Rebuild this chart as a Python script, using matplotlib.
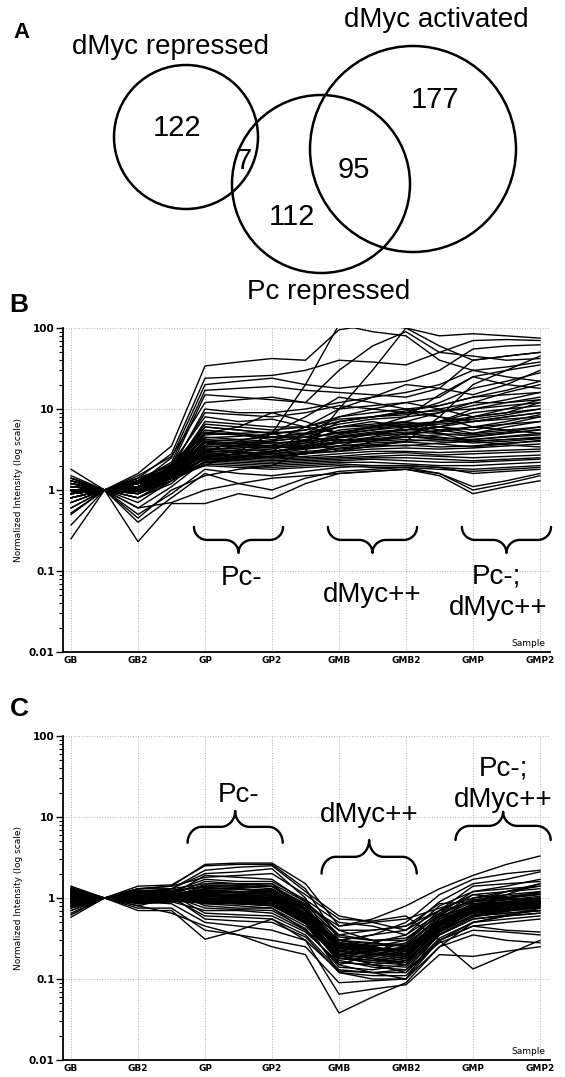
import numpy as np
import matplotlib
matplotlib.use("Agg")
import matplotlib.pyplot as plt
from matplotlib.patches import Ellipse

# ---- data -------------------------------------------------------------
sample_labels = ["GB", "GB2", "GP", "GP2", "GMB", "GMB2", "GMP", "GMP2"]

venn_sets = ["dMyc repressed", "Pc repressed", "dMyc activated"]
venn_counts = [122, 7, 112, 95, 177]   # rep only, rep&Pc, Pc only, Pc&act, act only

group_labels = ["Pc-", "dMyc++", "Pc-;\ndMyc++"]

# panel B : genes up in Pc- / dMyc++ (15 arrays per gene, labels on every other)
lines_b = [
    [1.30, 1, 1.60, 3.50, 34, 38, 42, 40, 95, 110, 100, 80, 85, 80, 75],
    [1.10, 1, 1.40, 2.80, 24, 25, 26, 30, 40, 38, 35, 50, 70, 72, 70],
    [0.90, 1, 1.20, 2.50, 20, 22, 24, 20, 18, 20, 22, 30, 55, 60, 62],
    [1.00, 1, 1.30, 2.20, 17, 18, 19, 17, 16, 15, 14, 18, 40, 45, 50],
    [1.40, 1, 1.10, 2.00, 15, 14, 13, 12, 30, 60, 90, 50, 45, 40, 42],
    [0.80, 1, 1.50, 2.60, 12, 13, 14, 12, 10, 11, 12, 14, 25, 30, 35],
    [1.20, 1, 1.00, 1.80, 10, 9, 9, 10, 12, 14, 16, 20, 30, 33, 38],
    [0.70, 1, 1.20, 1.90, 9, 8.5, 8, 9, 11, 10, 9, 12, 18, 22, 28],
    [1.00, 1, 1.30, 2.10, 8, 7, 7.5, 6, 5, 6, 7, 9, 12, 16, 20],
    [1.10, 1, 0.90, 1.70, 7, 6.5, 6, 6, 8, 9, 10, 11, 14, 15, 16],
    [0.90, 1, 1.10, 1.60, 6, 5.5, 5, 5.5, 7, 8, 8.5, 10, 12, 12, 13],
    [1.30, 1, 1.40, 2.00, 5.5, 5, 4.5, 5, 6, 7, 6, 7, 9, 10, 11],
    [0.80, 1, 0.80, 1.40, 5, 4.8, 4.5, 4.5, 4, 5, 5.5, 6, 8, 9, 10],
    [1.00, 1, 1.20, 1.80, 4.5, 4.2, 4, 4.5, 5, 5.5, 6, 6.5, 7, 7.5, 8],
    [1.50, 1, 1.00, 1.50, 4.2, 4, 3.8, 4, 4.5, 5, 4.8, 5.5, 6, 6.5, 7],
    [0.60, 1, 0.70, 1.30, 4, 3.8, 3.5, 3.8, 4.2, 4, 4.5, 4.8, 5, 5.5, 6],
    [1.10, 1, 1.30, 1.90, 3.8, 3.5, 3.5, 3.2, 3.5, 3.8, 4, 4.2, 4.5, 5, 5.5],
    [0.90, 1, 1.10, 1.60, 3.5, 3.4, 3.3, 3.5, 3.8, 4, 4.2, 4, 4.2, 4.5, 4.8],
    [1.20, 1, 0.90, 1.40, 3.3, 3.2, 3, 3.3, 3.5, 3.6, 3.5, 3.8, 4, 4.2, 4.4],
    [0.80, 1, 1.20, 1.70, 3.2, 3, 2.8, 3, 3.2, 3.4, 3.6, 3.4, 3.5, 3.8, 4],
    [1.00, 1, 1.00, 1.50, 3, 2.9, 2.7, 2.9, 3, 3.2, 3.3, 3.2, 3.3, 3.5, 3.7],
    [1.30, 1, 1.20, 1.60, 2.8, 2.7, 2.6, 2.8, 3.5, 4.5, 6, 5, 4, 3.6, 3.4],
    [0.70, 1, 0.80, 1.20, 2.7, 2.6, 2.5, 2.6, 2.8, 3, 3, 2.9, 3, 3.1, 3.2],
    [1.10, 1, 1.40, 1.80, 2.6, 2.5, 2.4, 2.5, 2.6, 2.8, 2.9, 2.7, 2.8, 2.9, 3],
    [0.90, 1, 1.00, 1.40, 2.5, 2.4, 2.3, 2.4, 2.5, 2.6, 2.7, 2.6, 2.5, 2.6, 2.7],
    [1.20, 1, 1.10, 1.50, 2.4, 2.3, 2.2, 2.3, 2.4, 2.5, 2.5, 2.4, 2.3, 2.4, 2.5],
    [0.60, 1, 0.60, 1.10, 2.3, 2.2, 2.1, 2.2, 2.3, 2.4, 2.3, 2.2, 2.2, 2.3, 2.4],
    [1.00, 1, 1.20, 1.50, 2.2, 2.1, 2.0, 2.1, 2.2, 2.2, 2.1, 2.0, 2.0, 2.1, 2.2],
    [0.80, 1, 0.90, 1.30, 2.1, 2.0, 1.9, 2.0, 2.1, 2.0, 2.0, 1.9, 1.8, 1.9, 2.0],
    [1.40, 1, 1.30, 1.60, 2.0, 1.9, 1.8, 1.9, 2.0, 1.9, 1.9, 1.8, 1.7, 1.8, 1.9],
    [0.50, 1, 0.50, 0.90, 1.8, 1.6, 1.5, 1.7, 1.9, 2.0, 2.0, 1.9, 1.6, 1.7, 1.8],
    [0.37, 1, 0.40, 0.80, 1.6, 1.2, 1.0, 1.4, 1.7, 1.8, 1.9, 1.6, 1.1, 1.3, 1.6],
    [0.25, 1, 0.23, 0.68, 0.68, 0.9, 0.78, 1.2, 1.6, 1.7, 1.8, 1.5, 0.9, 1.1, 1.3],
    [0.52, 1, 0.60, 0.70, 1.0, 1.2, 1.4, 1.5, 1.6, 1.7, 1.8, 1.6, 1.0, 1.2, 1.5],
    [1.80, 1, 0.45, 1.00, 1.5, 1.8, 2.0, 3, 10, 30, 100, 60, 40, 45, 50],
    [1.10, 1, 1.20, 1.40, 2, 3, 5, 20, 110, 90, 80, 40, 30, 25, 22],
    [1.00, 1, 1.10, 1.60, 3, 4, 5, 8, 14, 12, 10, 8, 6, 5.5, 5],
    [0.90, 1, 1.30, 1.80, 5, 6, 9, 7, 5, 6, 8, 15, 25, 20, 18],
    [1.20, 1, 1.00, 1.50, 2.5, 2.8, 3, 5, 8, 10, 12, 10, 8, 9, 12],
    [0.80, 1, 1.20, 1.60, 3, 3.5, 4, 6, 10, 14, 20, 18, 15, 20, 30],
    [1.00, 1, 1.40, 2.00, 6, 5.5, 5, 4, 3, 3.5, 4, 8, 20, 30, 45],
    [1.10, 1, 0.90, 1.30, 2.2, 2.4, 2.6, 2.8, 3, 4, 5, 6, 7, 8, 9],
    [0.90, 1, 1.10, 1.40, 2.4, 2.6, 3, 3.5, 4, 4.5, 5, 4.5, 4, 4.2, 4.5],
    [1.20, 1, 1.30, 1.70, 3.6, 3.8, 4, 4.5, 6, 6.5, 7, 6, 5, 6, 7],
    [0.90, 1, 1.00, 1.50, 2.9, 3.1, 3.4, 4, 7, 8, 9, 8, 7, 8, 9],
    [1.10, 1, 1.20, 1.60, 4.8, 5, 5.2, 5, 4.5, 5, 5.5, 7, 10, 12, 14],
    [0.80, 1, 0.90, 1.40, 3.4, 3.6, 3.8, 4, 5.5, 6, 6.5, 5.5, 4.8, 5.2, 6],
    [1.30, 1, 1.10, 1.50, 2.7, 3, 3.2, 3.8, 4.8, 5.5, 6.5, 7, 8, 10, 13],
    [1.00, 1, 1.10, 1.80, 6.5, 6, 5.5, 6, 7.5, 8, 9, 9.5, 10, 11, 12],
    [0.70, 1, 0.80, 1.30, 2.6, 2.8, 3, 3.3, 4, 4.3, 4.6, 4.2, 3.8, 4, 4.3],
    [1.20, 1, 1.20, 1.70, 4.0, 4.2, 4.5, 5, 6.5, 7.5, 8, 9, 11, 13, 16],
    [0.90, 1, 1.30, 1.90, 5.2, 4.8, 4.2, 4.8, 6, 6.2, 6.8, 6, 5.5, 6.5, 8],
    [1.00, 1, 1.00, 1.40, 3.1, 3.3, 3.6, 4.2, 5.2, 5.8, 6.2, 6.8, 7.5, 8.5, 10],
    [1.40, 1, 1.20, 1.60, 2.4, 2.6, 2.9, 3.4, 4.4, 4.8, 5.2, 5, 4.6, 5, 5.6],
    [0.80, 1, 1.10, 1.50, 3.9, 3.7, 3.4, 3.6, 4.6, 5.2, 5.6, 5.2, 6, 7, 8.5],
    [1.10, 1, 0.95, 1.40, 2.2, 2.5, 2.8, 3.2, 3.8, 4.2, 4.5, 4.4, 4.2, 4.6, 5],
    [1.00, 1, 1.25, 1.70, 4.4, 4.6, 4.9, 5.5, 7, 8, 9.5, 11, 14, 17, 22],
    [0.95, 1, 1.05, 1.50, 2.9, 2.7, 2.5, 2.8, 3.3, 3.6, 3.9, 3.7, 3.4, 3.7, 4.1],
]

# panel C : genes down in dMyc++
lines_c = [
    [1.40, 1, 1.30, 1.40, 2.60, 2.70, 2.70, 1.50, 0.45, 0.55, 0.80, 1.30, 1.90, 2.60, 3.30],
    [1.30, 1, 1.40, 1.45, 2.50, 2.60, 2.60, 1.30, 0.30, 0.35, 0.50, 1.10, 1.70, 2.00, 2.20],
    [1.20, 1, 1.20, 1.30, 2.20, 2.40, 2.50, 1.20, 0.60, 0.50, 0.40, 0.90, 1.50, 1.70, 2.10],
    [0.80, 1, 1.10, 1.30, 2.00, 2.10, 2.30, 1.00, 0.20, 0.25, 0.30, 0.70, 1.40, 1.50, 1.60],
    [1.10, 1, 0.90, 1.10, 1.90, 1.80, 1.70, 0.90, 0.35, 0.40, 0.45, 0.85, 0.90, 1.10, 1.50],
    [0.90, 1, 1.20, 1.20, 1.70, 1.60, 1.60, 0.95, 0.50, 0.45, 0.35, 0.80, 1.20, 1.30, 1.40],
    [1.30, 1, 1.00, 1.10, 1.60, 1.50, 1.50, 0.70, 0.15, 0.20, 0.25, 0.60, 1.10, 1.20, 1.30],
    [0.70, 1, 1.30, 1.30, 1.50, 1.50, 1.40, 0.85, 0.40, 0.30, 0.20, 0.55, 1.00, 1.10, 1.20],
    [1.00, 1, 1.10, 1.20, 1.40, 1.40, 1.30, 0.80, 0.25, 0.22, 0.28, 0.65, 0.95, 1.00, 1.10],
    [1.20, 1, 0.80, 1.00, 1.30, 1.30, 1.25, 0.75, 0.30, 0.35, 0.40, 0.70, 0.90, 0.95, 1.00],
    [0.80, 1, 1.00, 1.10, 1.25, 1.20, 1.20, 0.60, 0.18, 0.16, 0.18, 0.50, 0.85, 0.90, 0.95],
    [1.10, 1, 1.20, 1.10, 1.20, 1.15, 1.10, 0.70, 0.35, 0.30, 0.32, 0.60, 0.80, 0.85, 0.90],
    [0.90, 1, 0.90, 1.00, 1.10, 1.10, 1.05, 0.65, 0.28, 0.25, 0.22, 0.55, 0.75, 0.80, 0.85],
    [1.00, 1, 1.00, 1.00, 1.05, 1.00, 1.00, 0.55, 0.20, 0.18, 0.16, 0.45, 0.70, 0.75, 0.80],
    [1.30, 1, 1.10, 1.00, 1.00, 0.95, 0.95, 0.60, 0.30, 0.28, 0.25, 0.50, 0.65, 0.70, 0.75],
    [0.70, 1, 0.90, 0.90, 0.95, 0.90, 0.90, 0.50, 0.16, 0.15, 0.17, 0.40, 0.60, 0.65, 0.70],
    [1.10, 1, 1.10, 1.15, 0.90, 0.85, 0.85, 0.55, 0.25, 0.23, 0.22, 0.48, 0.80, 0.90, 1.00],
    [0.95, 1, 0.95, 0.95, 0.85, 0.85, 0.80, 0.50, 0.22, 0.20, 0.20, 0.45, 0.70, 0.80, 0.90],
    [1.20, 1, 1.25, 1.20, 0.80, 0.75, 0.75, 0.45, 0.18, 0.17, 0.19, 0.42, 0.65, 0.70, 0.80],
    [0.85, 1, 1.05, 1.05, 0.75, 0.72, 0.70, 0.42, 0.14, 0.13, 0.15, 0.38, 0.60, 0.65, 0.70],
    [1.05, 1, 0.85, 0.90, 0.70, 0.70, 0.65, 0.40, 0.20, 0.22, 0.25, 0.45, 0.70, 0.75, 0.85],
    [0.75, 1, 1.15, 1.10, 0.65, 0.62, 0.60, 0.38, 0.16, 0.15, 0.14, 0.35, 0.55, 0.60, 0.65],
    [1.25, 1, 0.95, 1.00, 0.60, 0.58, 0.55, 0.35, 0.13, 0.12, 0.12, 0.32, 0.50, 0.55, 0.60],
    [0.65, 1, 1.00, 1.05, 0.55, 0.52, 0.50, 0.33, 0.12, 0.11, 0.11, 0.30, 0.45, 0.50, 0.55],
    [0.62, 1, 0.90, 0.85, 0.50, 0.45, 0.40, 0.30, 0.125, 0.12, 0.13, 0.28, 0.40, 0.38, 0.35],
    [0.58, 1, 0.75, 0.75, 0.40, 0.35, 0.30, 0.25, 0.09, 0.095, 0.10, 0.25, 0.35, 0.30, 0.28],
    [1.00, 1, 0.70, 0.70, 0.31, 0.40, 0.55, 0.30, 0.065, 0.075, 0.085, 0.20, 0.19, 0.22, 0.25],
    [0.95, 1, 0.80, 0.65, 0.45, 0.35, 0.25, 0.20, 0.038, 0.06, 0.09, 0.25, 0.50, 0.60, 0.75],
    [1.10, 1, 1.30, 1.40, 1.80, 1.90, 2.00, 1.10, 0.55, 0.52, 0.60, 0.30, 0.133, 0.20, 0.30],
    [0.90, 1, 1.05, 1.10, 1.20, 1.00, 0.85, 0.50, 0.12, 0.10, 0.10, 0.40, 0.90, 1.20, 1.50],
    [1.35, 1, 1.20, 1.25, 1.35, 1.30, 1.20, 0.80, 0.45, 0.50, 0.55, 0.75, 1.00, 1.20, 1.40],
    [1.15, 1, 1.10, 1.10, 1.10, 1.05, 1.00, 0.60, 0.20, 0.15, 0.12, 0.30, 0.50, 0.60, 0.65],
    [0.85, 1, 0.95, 1.00, 1.00, 0.95, 0.90, 0.60, 0.30, 0.25, 0.20, 0.40, 0.60, 0.70, 0.80],
    [1.05, 1, 1.05, 1.00, 0.95, 0.90, 0.85, 0.50, 0.17, 0.14, 0.13, 0.35, 0.55, 0.62, 0.70],
    [0.75, 1, 0.85, 0.90, 0.90, 0.85, 0.80, 0.48, 0.20, 0.18, 0.15, 0.36, 0.58, 0.68, 0.78],
    [1.20, 1, 1.00, 1.05, 1.40, 1.45, 1.50, 0.90, 0.40, 0.40, 0.45, 0.70, 1.10, 1.00, 0.90],
    [0.90, 1, 1.10, 1.10, 1.30, 1.35, 1.40, 0.75, 0.25, 0.20, 0.18, 0.50, 0.80, 1.00, 1.20],
    [1.00, 1, 0.90, 0.95, 1.15, 1.20, 1.25, 0.70, 0.22, 0.28, 0.35, 0.65, 1.20, 1.40, 1.70],
    [1.10, 1, 1.00, 1.00, 0.85, 0.80, 0.75, 0.40, 0.15, 0.12, 0.10, 0.30, 0.45, 0.40, 0.38],
    [0.80, 1, 0.95, 0.95, 1.05, 1.00, 0.95, 0.55, 0.28, 0.24, 0.20, 0.45, 0.75, 0.72, 0.70],
    [1.15, 1, 1.10, 1.15, 1.25, 1.20, 1.15, 0.70, 0.26, 0.23, 0.24, 0.52, 0.82, 0.88, 0.95],
    [0.88, 1, 0.98, 1.02, 1.12, 1.08, 1.05, 0.62, 0.22, 0.20, 0.21, 0.48, 0.78, 0.85, 0.92],
    [1.08, 1, 1.15, 1.12, 1.00, 0.98, 0.95, 0.58, 0.24, 0.21, 0.19, 0.46, 0.72, 0.80, 0.88],
    [0.92, 1, 0.92, 0.98, 1.18, 1.15, 1.12, 0.66, 0.28, 0.26, 0.26, 0.55, 0.85, 0.95, 1.05],
    [1.22, 1, 1.05, 1.08, 0.92, 0.88, 0.86, 0.52, 0.19, 0.17, 0.16, 0.40, 0.66, 0.74, 0.82],
    [0.78, 1, 1.00, 1.05, 1.08, 1.05, 1.00, 0.60, 0.23, 0.20, 0.18, 0.44, 0.70, 0.78, 0.86],
    [1.02, 1, 1.08, 1.10, 1.30, 1.28, 1.25, 0.74, 0.30, 0.27, 0.27, 0.58, 0.90, 1.00, 1.12],
    [0.95, 1, 0.88, 0.92, 0.98, 0.95, 0.92, 0.56, 0.21, 0.19, 0.17, 0.42, 0.68, 0.75, 0.84],
    [1.12, 1, 1.18, 1.15, 1.45, 1.42, 1.38, 0.82, 0.33, 0.30, 0.30, 0.62, 0.95, 1.05, 1.15],
    [0.82, 1, 0.96, 1.00, 0.88, 0.85, 0.82, 0.50, 0.18, 0.16, 0.15, 0.38, 0.62, 0.70, 0.78],
    [1.18, 1, 1.02, 1.05, 1.15, 1.10, 1.08, 0.64, 0.25, 0.22, 0.20, 0.47, 0.76, 0.84, 0.92],
    [0.98, 1, 1.12, 1.10, 1.05, 1.02, 0.98, 0.60, 0.27, 0.24, 0.22, 0.50, 0.80, 0.86, 0.95],
    [1.06, 1, 0.94, 0.98, 1.22, 1.20, 1.18, 0.70, 0.24, 0.21, 0.19, 0.46, 0.74, 0.82, 0.90],
    [0.90, 1, 1.06, 1.08, 0.95, 0.92, 0.90, 0.54, 0.20, 0.18, 0.16, 0.41, 0.66, 0.72, 0.80],
    [1.25, 1, 1.15, 1.10, 1.10, 1.06, 1.02, 0.62, 0.26, 0.24, 0.23, 0.50, 0.80, 0.90, 1.00],
]

# ---- layout (pixels of the 565x1077 canvas) ----------------------------
W, H = 565, 1077
circle_xy = [(186, 137), (321, 184), (413, 149)]
circle_r = [72, 89, 103]
set_label_xy = [(170, 47), (329, 292), (436, 20)]
count_xy = [(177, 128), (244, 161), (292, 217), (354, 170), (435, 100)]

fig = plt.figure(figsize=(W / 100, H / 100), dpi=100)

ov = fig.add_axes([0, 0, 1, 1])
ov.set_xlim(0, W)
ov.set_ylim(H, 0)
ov.axis("off")

for (cx, cy), r in zip(circle_xy, circle_r):
    ov.add_patch(Ellipse((cx, cy), 2 * r, 2 * r, fill=False, lw=1.8, ec="black"))
for name, (tx, ty) in zip(venn_sets, set_label_xy):
    ov.text(tx, ty, name, fontsize=20, ha="center", va="center", family="Liberation Sans")
for n, (tx, ty) in zip(venn_counts, count_xy):
    ov.text(tx, ty, str(n), fontsize=21, ha="center", va="center", family="Liberation Sans")

ov.text(22, 33, "A", fontsize=16, fontweight="bold", ha="center", va="center", family="Liberation Sans")
ov.text(19, 305, "B", fontsize=19, fontweight="bold", ha="center", va="center", family="Liberation Sans")
ov.text(19, 709, "C", fontsize=19, fontweight="bold", ha="center", va="center", family="Liberation Sans")


def brace(ax, xc, half, y_end, y_tip):
    l0, l1 = np.log10(y_end), np.log10(y_tip)
    lm = (l0 + l1) / 2
    rx = half * 0.3
    t = np.linspace(0, np.pi / 2, 25)
    xl = xc - half
    x1 = xl + rx * (1 - np.cos(t))
    y1 = l0 + (lm - l0) * np.sin(t)
    x2 = xc - rx + rx * np.sin(t)
    y2 = lm + (l1 - lm) * (1 - np.cos(t))
    xs = np.concatenate([x1, x2, 2 * xc - x2[::-1], 2 * xc - x1[::-1]])
    ys = np.concatenate([y1, y2, y2[::-1], y1[::-1]])
    ax.plot(xs, 10 ** ys, color="black", lw=1.7, clip_on=False, solid_capstyle="round")


def panel(bottom, lines):
    ax = fig.add_axes([63 / W, bottom, 487 / W, 324 / H])
    x = np.arange(len(lines[0]))
    for row in lines:
        ax.plot(x, row, color="black", lw=1.0)
    ax.set_yscale("log")
    ax.set_ylim(0.01, 100)
    ax.set_xlim(-0.24, 14.3)
    ax.set_xticks(x[::2])
    ax.set_xticklabels(sample_labels)
    ax.set_yticks([0.01, 0.1, 1, 10, 100])
    ax.set_yticklabels(["0.01", "0.1", "1", "10", "100"])
    ax.tick_params(axis="y", which="major", length=5, width=1, labelsize=7.5, pad=1)
    ax.tick_params(axis="y", which="minor", length=3, width=0.8)
    ax.tick_params(axis="x", length=0, labelsize=6.5, pad=3)
    for lab in ax.get_yticklabels() + ax.get_xticklabels():
        lab.set_fontweight("bold")
    ax.grid(True, which="major", ls=":", color="#b0b0b0", lw=0.7)
    for s in ["top", "right"]:
        ax.spines[s].set_visible(False)
    for s in ["left", "bottom"]:
        ax.spines[s].set_linewidth(1.3)
    ax.set_ylabel("Normalized Intensity (log scale)", fontsize=6.5, labelpad=4)
    ax.text(0.99, 0.012, "Sample", transform=ax.transAxes, ha="right", va="bottom", fontsize=6.5)
    ax.patch.set_alpha(0)
    return ax


group_x = [5, 9, 13]
tb = dict(fontsize=20, ha="center", va="center", family="Liberation Sans")

axb = panel(1 - 652 / H, lines_b)
for xc in group_x:
    brace(axb, xc, 1.33, 0.35, 0.167)
axb.text(5.1, 0.082, group_labels[0], **tb)
axb.text(9.0, 0.05, group_labels[1], **tb)
axb.text(12.7, 0.086, group_labels[2].split("\n")[0], **tb)
axb.text(12.75, 0.035, group_labels[2].split("\n")[1], **tb)

axc = panel(1 - 1060 / H, lines_c)
brace(axc, 4.9, 1.42, 4.8, 11.9)
brace(axc, 8.9, 1.42, 2.0, 5.2)
brace(axc, 12.9, 1.42, 5.2, 11.6)
axc.text(5.0, 18.7, group_labels[0], **tb)
axc.text(8.9, 10.6, group_labels[1], **tb)
axc.text(12.9, 40, group_labels[2].split("\n")[0], **tb)
axc.text(12.9, 16.2, group_labels[2].split("\n")[1], **tb)

fig.savefig("out.png", dpi=100)
